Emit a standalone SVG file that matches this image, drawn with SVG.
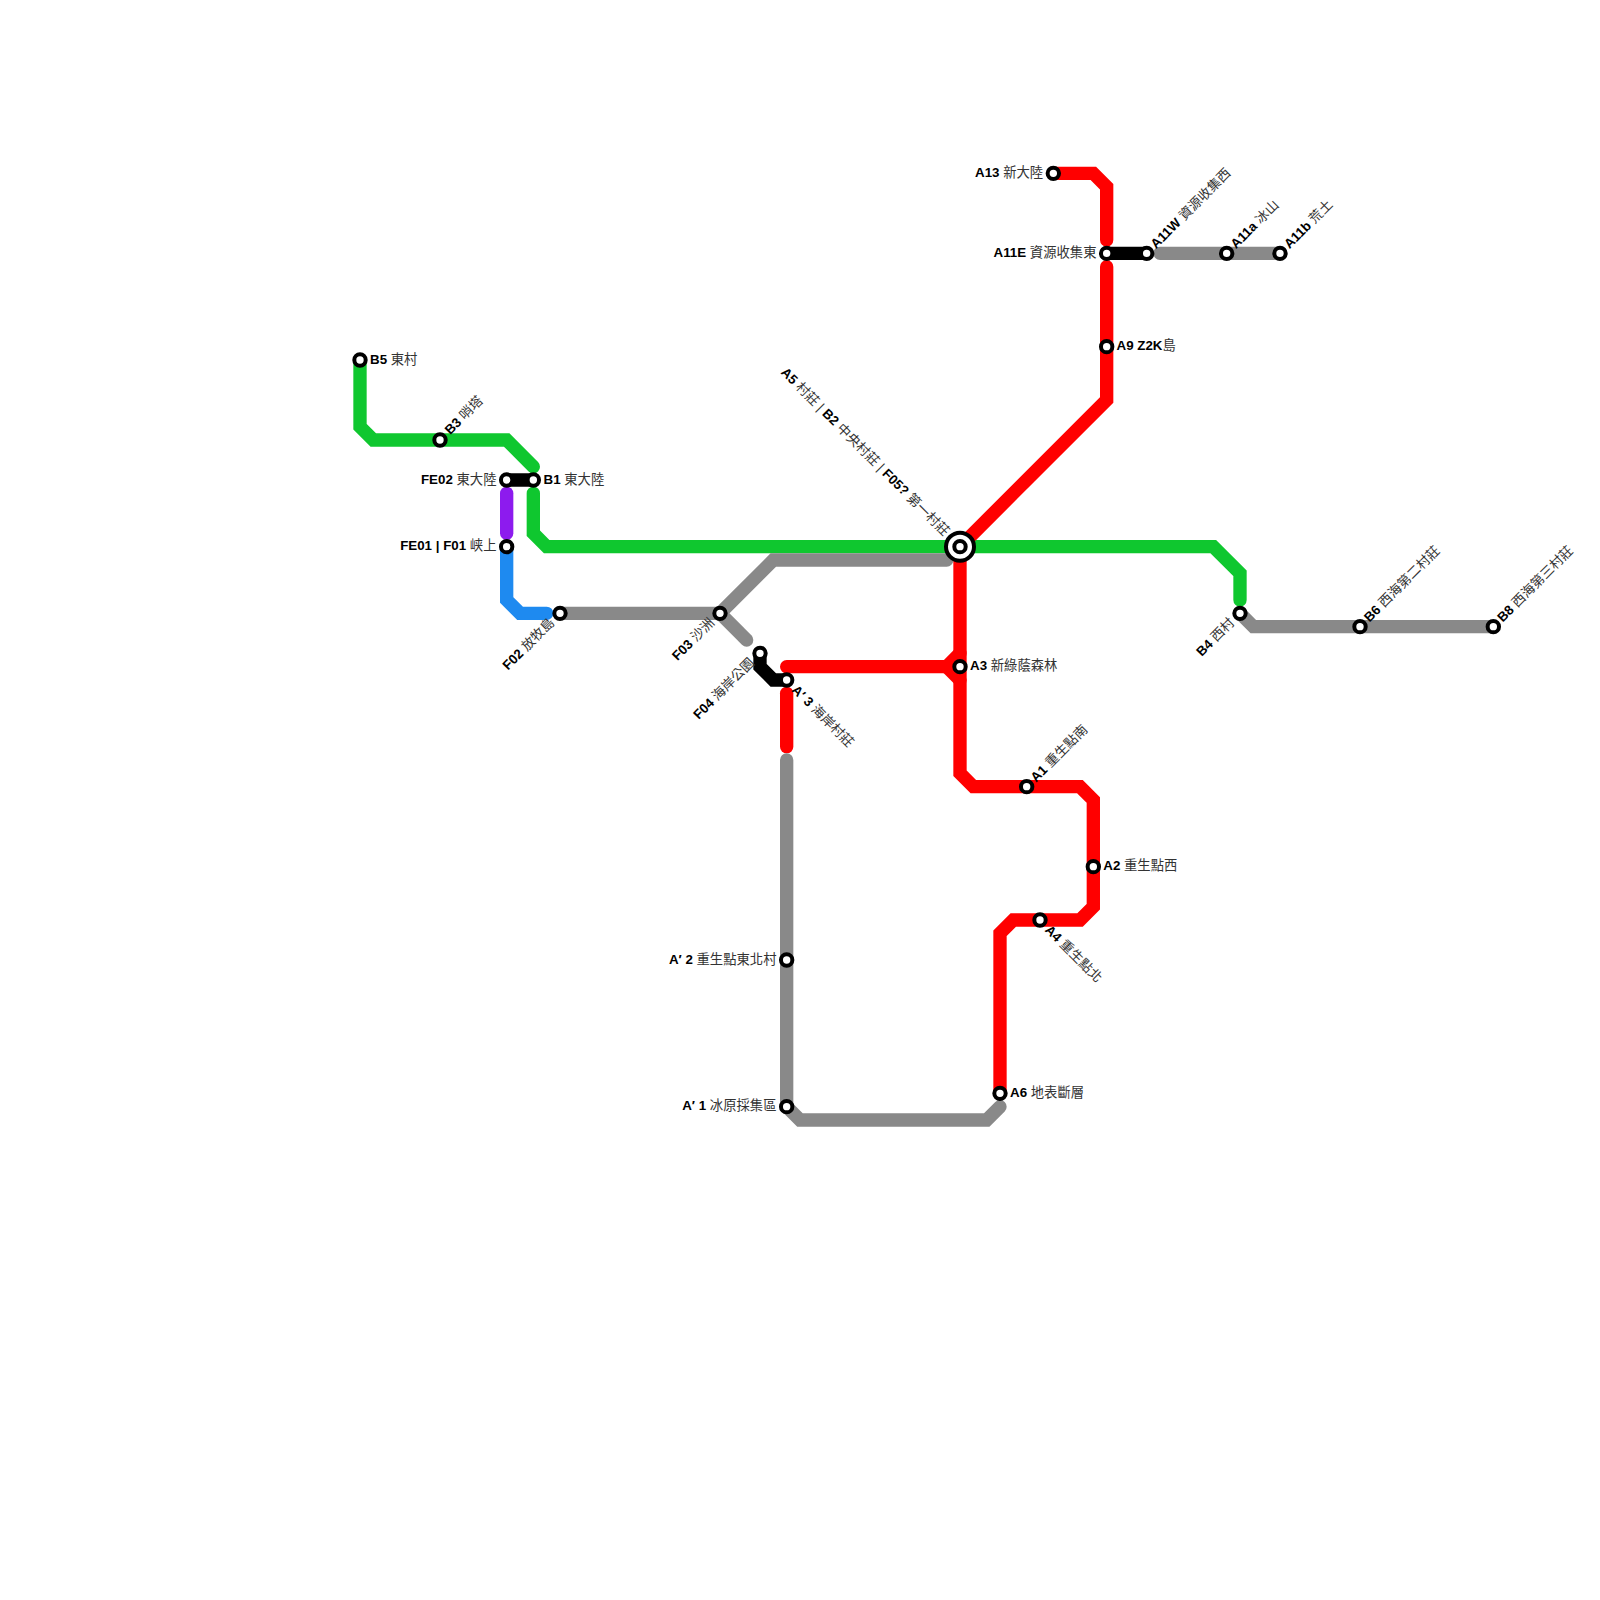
<svg xmlns="http://www.w3.org/2000/svg" width="1600" height="1600" viewBox="0 0 1600 1600">
<style>
.l{fill:none;stroke-width:13.33;stroke-linecap:round;stroke-linejoin:miter}
.g{stroke:#0fc72f}.r{stroke:#ff0000}.y{stroke:#898989}.k{stroke:#000}.p{stroke:#8d1bee}.b{stroke:#1e8af0}
.s{fill:#fff;stroke:#000;stroke-width:4}
text{font-family:"Liberation Sans","Noto Sans CJK TC",sans-serif;font-size:13.33px;fill:#333}
text .n{font-weight:700;fill:#000}
.e{text-anchor:end}
</style>
<rect width="1600" height="1600" fill="#fff"/>
<g id="connectors">
<path class="l g" d="M360 360V426.67L373.33 440H506.67L533.33 466.67"/>
<path class="l g" d="M533.33 493.33V533.33L546.67 546.67H1213.33L1240 573.33V600"/>
<path class="l p" d="M506.67 493.33V533.33"/>
<path class="l b" d="M506.67 546.67V600L520 613.33H546.67"/>
<path class="l k" d="M506.67 480H533.33"/>
<path class="l y" d="M560 613.33H720L773.33 560H946.67"/>
<path class="l y" d="M720 613.33L746.67 640"/>
<path class="l k" d="M760 653.33V666.67L773.33 680H786.67"/>
<path class="l r" d="M786.67 666.67H946.67L960 653.33"/>
<path class="l r" d="M946.67 666.67L960 680"/>
<path class="l r" d="M960 546.67V773.33L973.33 786.67H1080L1093.33 800V906.67L1080 920H1013.33L1000 933.33V1093.33"/>
<path class="l r" d="M786.67 693.33V746.67"/>
<path class="l y" d="M786.67 760V1106.67L800 1120H986.67L1000 1106.67"/>
<path class="l r" d="M1053.33 173.33H1093.33L1106.67 186.67V240"/>
<path class="l r" d="M1106.67 266.67V400L960 546.67"/>
<path class="l k" d="M1106.67 253.33H1146.67"/>
<path class="l y" d="M1160 253.33H1280"/>
<path class="l y" d="M1240 613.33L1253.33 626.67H1493.33"/>
</g>
<g id="B5"><circle class="s" cx="360" cy="360" r="5.7"/><text x="370" y="363.7"><tspan class="n">B5</tspan> 東村</text></g>
<g id="B3"><circle class="s" cx="440" cy="440" r="5.7"/><text transform="translate(447.5 432.5) rotate(-45)" y="3.8"><tspan class="n">B3</tspan> 哨塔</text></g>
<g id="FE02"><circle class="s" cx="506.67" cy="480" r="5.7"/><text class="e" x="496.5" y="483.7"><tspan class="n">FE02</tspan> 東大陸</text></g>
<g id="B1"><circle class="s" cx="533.33" cy="480" r="5.7"/><text x="543.5" y="483.7"><tspan class="n">B1</tspan> 東大陸</text></g>
<g id="FE01"><circle class="s" cx="506.67" cy="546.67" r="5.7"/><text class="e" x="496.5" y="550.4"><tspan class="n">FE01 | F01</tspan> 峡上</text></g>
<g id="F02"><circle class="s" cx="560" cy="613.33" r="5.7"/><text class="e" transform="translate(552.5 620.83) rotate(-45)" y="3.8"><tspan class="n">F02</tspan> 放牧島</text></g>
<g id="F03"><circle class="s" cx="720" cy="613.33" r="5.7"/><text class="e" transform="translate(712.5 620.83) rotate(-45)" y="3.8"><tspan class="n">F03</tspan> 沙洲</text></g>
<g id="F04"><circle class="s" cx="760" cy="653.33" r="5.7"/><text class="e" transform="translate(752.5 660.83) rotate(-45)" y="3.8"><tspan class="n">F04</tspan> 海岸公園</text></g>
<g id="A3p"><circle class="s" cx="786.67" cy="680" r="5.7"/><text transform="translate(794.17 687.5) rotate(45)" y="4.5"><tspan class="n">A′ 3</tspan> 海岸村莊</text></g>
<g id="A3"><circle class="s" cx="960" cy="666.67" r="5.7"/><text x="970" y="670.4"><tspan class="n">A3</tspan> 新綠蔭森林</text></g>
<g id="A13"><circle class="s" cx="1053.33" cy="173.33" r="5.7"/><text class="e" x="1043.2" y="177"><tspan class="n">A13</tspan> 新大陸</text></g>
<g id="A11E"><circle class="s" cx="1106.67" cy="253.33" r="5.7"/><text class="e" x="1096.5" y="257"><tspan class="n">A11E</tspan> 資源收集東</text></g>
<g id="A11W"><circle class="s" cx="1146.67" cy="253.33" r="5.7"/><text transform="translate(1153.4 246.6) rotate(-45)" y="3.8"><tspan class="n">A11W</tspan> 資源收集西</text></g>
<g id="A11a"><circle class="s" cx="1226.67" cy="253.33" r="5.7"/><text transform="translate(1233.4 246.6) rotate(-45)" y="3.8"><tspan class="n">A11a</tspan> 冰山</text></g>
<g id="A11b"><circle class="s" cx="1280" cy="253.33" r="5.7"/><text transform="translate(1286.7 246.6) rotate(-45)" y="3.8"><tspan class="n">A11b</tspan> 荒土</text></g>
<g id="A9"><circle class="s" cx="1106.67" cy="346.67" r="5.7"/><text x="1116.5" y="350.4"><tspan class="n">A9 Z2K</tspan>島</text></g>
<g id="A1"><circle class="s" cx="1026.67" cy="786.67" r="5.7"/><text transform="translate(1033.4 780) rotate(-45)" y="3.8"><tspan class="n">A1</tspan> 重生點南</text></g>
<g id="A2"><circle class="s" cx="1093.33" cy="866.67" r="5.7"/><text x="1103.3" y="870.4"><tspan class="n">A2</tspan> 重生點西</text></g>
<g id="A4"><circle class="s" cx="1040" cy="920" r="5.7"/><text transform="translate(1047.5 927.5) rotate(45)" y="4.5"><tspan class="n">A4</tspan> 重生點北</text></g>
<g id="A6"><circle class="s" cx="1000" cy="1093.33" r="5.7"/><text x="1010" y="1097"><tspan class="n">A6</tspan> 地表斷層</text></g>
<g id="A2p"><circle class="s" cx="786.67" cy="960" r="5.7"/><text class="e" x="776.5" y="963.7"><tspan class="n">A′ 2</tspan> 重生點東北村</text></g>
<g id="A1p"><circle class="s" cx="786.67" cy="1106.67" r="5.7"/><text class="e" x="776.5" y="1110.4"><tspan class="n">A′ 1</tspan> 冰原採集區</text></g>
<g id="B4"><circle class="s" cx="1240" cy="613.33" r="5.7"/><text class="e" transform="translate(1232.5 620.83) rotate(-45)" y="3.8"><tspan class="n">B4</tspan> 西村</text></g>
<g id="B6"><circle class="s" cx="1360" cy="626.67" r="5.7"/><text transform="translate(1366.7 620) rotate(-45)" y="3.8"><tspan class="n">B6</tspan> 西海第二村莊</text></g>
<g id="B8"><circle class="s" cx="1493.33" cy="626.67" r="5.7"/><text transform="translate(1500 620) rotate(-45)" y="3.8"><tspan class="n">B8</tspan> 西海第三村莊</text></g>
<g id="A5"><circle class="s" cx="960" cy="546.67" r="14"/><circle class="s" cx="960" cy="546.67" r="5.7"/><text class="e" transform="translate(947 533.5) rotate(45)" y="4.5"><tspan class="n">A5</tspan> 村莊 | <tspan class="n">B2</tspan> 中央村莊 | <tspan class="n">F05?</tspan> 第一村莊</text></g>
</svg>
